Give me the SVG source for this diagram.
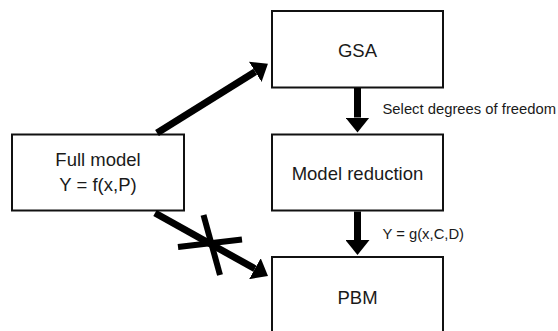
<svg xmlns="http://www.w3.org/2000/svg" width="558" height="331" viewBox="0 0 558 331">
  <style>
    .box { fill: #ffffff; stroke: #111111; stroke-width: 2; }
    .lbl { font-family: "Liberation Sans", Arial, sans-serif; font-size: 18.5px; fill: #1a1a1a; text-anchor: middle; }
    .small { font-family: "Liberation Sans", Arial, sans-serif; font-size: 14.8px; fill: #1a1a1a; }
    .conn { fill: none; stroke: #000000; stroke-width: 7; }
    .cross { fill: none; stroke: #000000; stroke-width: 6; }
  </style>
  <defs>
    <marker id="head" viewBox="0 0 15 24" markerWidth="15" markerHeight="24" refX="0" refY="12" orient="auto" markerUnits="userSpaceOnUse">
      <path d="M0,0 L15,12 L0,24 Z" fill="#000000"/>
    </marker>
  </defs>
  <rect width="558" height="331" fill="#ffffff"/>

  <g id="full-model">
    <rect class="box" x="12" y="134.5" width="172" height="76"/>
    <text class="lbl" x="98" y="166">Full model</text>
    <text class="lbl" x="98" y="191">Y = f(x,P)</text>
  </g>
  <g id="gsa">
    <rect class="box" x="272" y="11" width="171" height="76.5"/>
    <text class="lbl" x="357.5" y="56.5">GSA</text>
  </g>
  <g id="model-reduction">
    <rect class="box" x="272" y="134.5" width="171" height="76"/>
    <text class="lbl" x="357.5" y="179.5">Model reduction</text>
  </g>
  <g id="pbm">
    <rect class="box" x="272" y="257" width="171" height="90"/>
    <text class="lbl" x="357.5" y="303.5">PBM</text>
  </g>

  <g id="connectors">
    <path class="conn" d="M357.5,88 L357.5,117.5" marker-end="url(#head)"/>
    <text class="small" x="382.5" y="113.5">Select degrees of freedom</text>
    <path class="conn" d="M357.5,211.5 L357.5,240" marker-end="url(#head)"/>
    <text class="small" x="382.5" y="238.5">Y = g(x,C,D)</text>
    <path class="conn" d="M157,133 L255.2,71.8" marker-end="url(#head)"/>
    <path class="conn" d="M155,213 L254.9,268.7" marker-end="url(#head)"/>
    <path class="cross" d="M178,247 L242,239.5"/>
    <path class="cross" d="M203.5,215 L220,275"/>
  </g>
</svg>
